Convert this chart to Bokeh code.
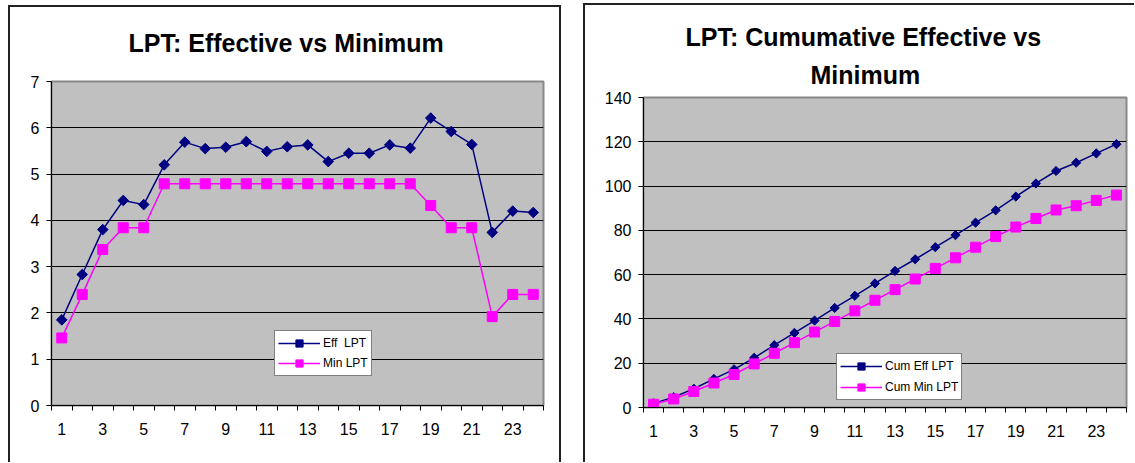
import numpy as np
from bokeh.plotting import figure
from bokeh.models import Range1d, FixedTicker, Legend, LegendItem, Title
from bokeh.embed import file_html
from bokeh.resources import INLINE

# ---- data ----
hours = list(range(1, 25))
eff_lpt = [1.85, 2.83, 3.80, 4.43, 4.34, 5.20, 5.69, 5.55, 5.58, 5.70, 5.49, 5.59,
           5.63, 5.27, 5.45, 5.45, 5.63, 5.56, 6.21, 5.92, 5.64, 3.74, 4.20, 4.17]
min_lpt = [1.46, 2.40, 3.37, 3.84, 3.84, 4.79, 4.79, 4.79, 4.79, 4.79, 4.79, 4.79,
           4.79, 4.79, 4.79, 4.79, 4.79, 4.79, 4.32, 3.84, 3.84, 1.92, 2.40, 2.40]
cum_eff_lpt = [1.85, 4.68, 8.48, 12.91, 17.25, 22.45, 28.14, 33.69, 39.27, 44.97, 50.46, 56.05,
               61.68, 66.95, 72.40, 77.85, 83.48, 89.04, 95.25, 101.17, 106.81, 110.55, 114.75, 118.92]
cum_min_lpt = [1.46, 3.86, 7.23, 11.07, 14.91, 19.70, 24.49, 29.28, 34.07, 38.86, 43.65, 48.44,
               53.23, 58.02, 62.81, 67.60, 72.39, 77.18, 81.50, 85.37, 89.21, 91.13, 93.53, 95.93]
x_label_ticks = [1, 3, 5, 7, 9, 11, 13, 15, 17, 19, 21, 23]
left_y_ticks = [0, 1, 2, 3, 4, 5, 6, 7]
right_y_ticks = [0, 20, 40, 60, 80, 100, 120, 140]
left_title = "LPT: Effective vs Minimum"
right_title_lines = ["LPT:  Cumumative Effective vs", "Minimum"]
left_names = ["Eff  LPT", "Min LPT"]
right_names = ["Cum Eff LPT", "Cum Min LPT"]

NAVY = "#000080"
MAGENTA = "#FF00FF"
FONT = "Liberation Sans"
H = 462


def make_fig(width, ymax, yticks, borders, styles):
    left, right, top, bottom = borders
    p = figure(width=width, height=H, x_range=Range1d(0.5, 24.5), y_range=Range1d(0, ymax),
               output_backend="svg", toolbar_location=None,
               min_border_left=left, min_border_right=right,
               min_border_top=top, min_border_bottom=bottom,
               background_fill_color="#C0C0C0", border_fill_color=None,
               outline_line_color="#888888", outline_line_width=2)
    p.styles = styles
    xa = p.xaxis[0]
    xa.ticker = FixedTicker(ticks=x_label_ticks,
                            minor_ticks=[h - 0.5 for h in hours] + [hours[-1] + 0.5])
    xa.major_tick_line_color = None
    xa.major_tick_out = 0
    xa.major_tick_in = 0
    xa.minor_tick_line_color = "black"
    xa.minor_tick_out = 5
    xa.minor_tick_in = 0
    xa.axis_line_color = "black"
    xa.axis_line_width = 1
    xa.major_label_text_font = FONT
    xa.major_label_text_font_size = "16px"
    xa.major_label_text_color = "black"
    xa.major_label_standoff = 12
    ya = p.yaxis[0]
    ya.ticker = FixedTicker(ticks=yticks)
    ya.major_tick_out = 5
    ya.major_tick_in = 0
    ya.major_tick_line_color = "black"
    ya.minor_tick_line_color = None
    ya.axis_line_color = "black"
    ya.major_label_text_font = FONT
    ya.major_label_text_font_size = "16px"
    ya.major_label_text_color = "black"
    ya.major_label_standoff = 7
    p.xgrid.visible = False
    p.ygrid.ticker = FixedTicker(ticks=yticks[1:-1])
    p.ygrid.grid_line_color = "black"
    p.ygrid.grid_line_width = 1
    return p


def add_series(p, y1, y2, names, dsize, loc, pad, spacing):
    l1 = p.line(hours, y1, line_color=NAVY, line_width=1.5)
    s1 = p.scatter(hours, y1, marker="square", angle=np.pi / 4, size=dsize,
                   fill_color=NAVY, line_color=NAVY)
    l2 = p.line(hours, y2, line_color=MAGENTA, line_width=1.5)
    s2 = p.scatter(hours, y2, marker="square", size=10,
                   fill_color=MAGENTA, line_color=MAGENTA)
    leg = Legend(items=[LegendItem(label=names[0], renderers=[l1, s1]),
                        LegendItem(label=names[1], renderers=[l2, s2])],
                 location=loc, orientation="vertical",
                 border_line_color="black", border_line_width=1,
                 background_fill_color="white", background_fill_alpha=1,
                 label_text_font=FONT, label_text_font_size="12px",
                 label_text_color="black",
                 glyph_width=42, glyph_height=18, label_height=18,
                 label_standoff=3, padding=pad, spacing=spacing, margin=0)
    p.add_layout(leg, "center")


def style_title(t, text, offset, standoff):
    t.text = text
    t.align = "left"
    t.offset = offset
    t.standoff = standoff
    t.text_font = FONT
    t.text_font_size = "25px"
    t.text_font_style = "bold"
    t.text_color = "black"


# ---- left chart: frame x 51..543, y 81..405 ----
p1 = make_fig(561, 7, left_y_ticks, (51, 18, 81, H - 405),
              {"box-shadow": "inset 8px 0 0 0 #fff, inset 0 5px 0 0 #fff, "
                             "inset 10px 0 0 0 #222, inset 0 7px 0 0 #222, "
                             "inset -2px 0 0 0 #222"})
add_series(p1, eff_lpt, min_lpt, left_names, 7.5, (223, 29), 3, 2)
style_title(p1.title, left_title, 77, 49)

# ---- right chart: frame x 643..1126, y 97..407 ----
p2 = make_fig(551, 140, right_y_ticks, (60, 8, 97, H - 407),
              {"position": "absolute", "left": "583px", "top": "0px",
               "box-shadow": "inset 0 3px 0 0 #fff, inset 2px 0 0 0 #222, "
                             "inset 0 5px 0 0 #222"})
add_series(p2, cum_eff_lpt, cum_min_lpt, right_names, 6.5, (193, 7), 3, 3)
style_title(p2.title, right_title_lines[0], 42, 0)
t2 = Title()
style_title(t2, right_title_lines[1], 167, 17)
p2.add_layout(t2, "above")

open("out.html", "w").write(file_html([p1, p2], INLINE))
